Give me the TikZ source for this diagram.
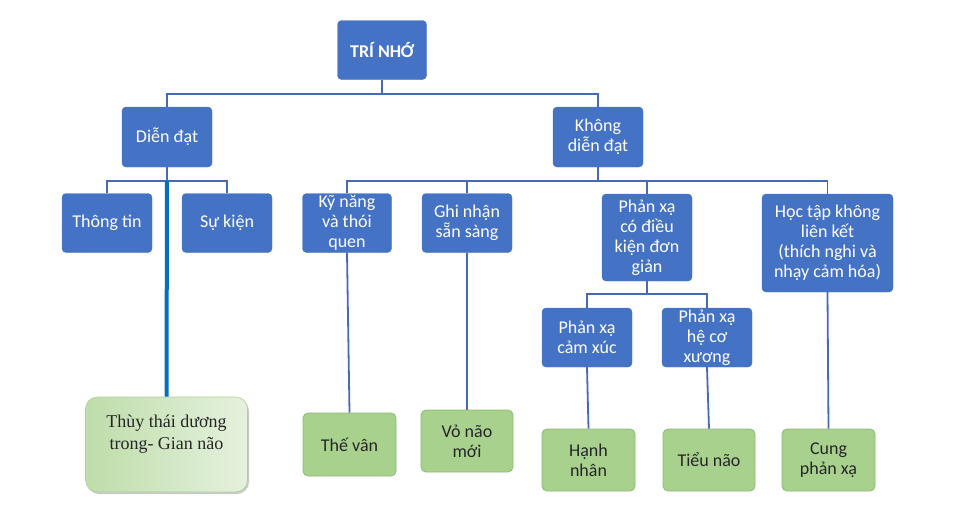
\documentclass[tikz,border=0pt]{standalone}
\usepackage{fontspec}
\setmainfont{Carlito}
\newfontfamily\serifv{Liberation Serif}
\usetikzlibrary{shadows}
\definecolor{boxblue}{RGB}{68,114,196}
\definecolor{linkblue}{RGB}{70,106,180}
\definecolor{thickblue}{RGB}{0,112,192}
\definecolor{leafgreen}{RGB}{169,209,142}
\definecolor{leafedge}{RGB}{140,186,116}
\begin{document}
\begin{tikzpicture}[x=1pt,y=-1pt,
  bluebox/.style={fill=boxblue, draw=boxblue, rounded corners=4pt, text=white, align=center,
    font=\fontsize{18}{20}\selectfont, inner sep=0pt},
  leafbox/.style={fill=leafgreen, draw=leafedge, line width=0.8pt, rounded corners=5pt, text=black!85, align=center,
    font=\fontsize{18}{20}\selectfont, inner sep=0pt, minimum width=92pt, minimum height=62pt},
  link/.style={draw=linkblue, line width=1.8pt},
  thicklink/.style={draw=thickblue, line width=4pt},
  thuybox/.style={rounded corners=12pt, draw=leafedge!70, line width=0.6pt, left color=leafgreen!75, right color=leafgreen!30,
    drop shadow={shadow xshift=1.5pt, shadow yshift=-2pt, fill=black!35, opacity=0.6},
    minimum width=162pt, minimum height=95pt, inner sep=0pt}
]
\useasboundingbox (0,0) rectangle (975,517);

% top levels
\node[bluebox, minimum width=89pt, minimum height=59pt, font=\fontsize{18}{20}\selectfont\bfseries] (tri) at (382,50) {TRÍ NHỚ};
\node[bluebox, minimum width=90pt, minimum height=60pt] (dien) at (167,137) {Diễn đạt};
\node[bluebox, minimum width=90pt, minimum height=60pt] (khong) at (598,137) {Không\\diễn đạt};

% level 3
\node[bluebox, minimum width=90pt, minimum height=59pt] (thong) at (107,223) {Thông tin};
\node[bluebox, minimum width=90pt, minimum height=59pt] (sukien) at (227,223) {Sự kiện};
\node[bluebox, minimum width=89pt, minimum height=59pt] (kynang) at (347,223) {Kỹ năng\\và thói\\quen};
\node[bluebox, minimum width=90pt, minimum height=59pt] (ghinhan) at (467,223) {Ghi nhận\\sẵn sàng};
\node[bluebox, minimum width=90pt, minimum height=87pt] (pxdk) at (647,237.5) {Phản xạ\\có điều\\kiện đơn\\giản};
\node[bluebox, minimum width=131pt, minimum height=98pt] (hoctap) at (827.5,243) {Học tập không\\liên kết\\(thích nghi và\\nhạy cảm hóa)};

% level 4
\node[bluebox, minimum width=90pt, minimum height=59pt] (pxcx) at (587,337.5) {Phản xạ\\cảm xúc};
\node[bluebox, minimum width=90pt, minimum height=59pt] (pxhc) at (707,337.5) {Phản xạ\\hệ cơ\\xương};

% leaves
\node[thuybox] (thuy) at (166.5,444.5) {};
\node[font=\serifv\fontsize{18}{22}\selectfont, text=black!85, align=center] (thuytxt) at (166.5,434) {Thùy thái dương\\trong- Gian não};
\node[leafbox, minimum width=93pt, minimum height=63pt] (thevan) at (349.5,444.5) {Thế vân};
\node[leafbox, minimum width=92pt, minimum height=62pt] (vonao) at (467,441) {Vỏ não\\mới};
\node[leafbox, minimum width=93pt, minimum height=62pt] (hanh) at (588.5,460) {Hạnh\\nhân};
\node[leafbox, minimum width=92pt, minimum height=62pt] (tieu) at (709,460) {Tiểu não};
\node[leafbox, minimum width=93pt, minimum height=62pt] (cung) at (828.5,460) {Cung\\phản xạ};

% bus coordinates
\coordinate (b1) at (382,94);
\coordinate (b2) at (167,181);
\coordinate (b3) at (598,181);
\coordinate (b4) at (647,294);

% connectors
\draw[link] (tri.south) -- (b1);
\draw[link] (dien.north) |- (b1) -| (khong.north);
\draw[link] (dien.south) -- (b2);
\draw[link] (thong.north) |- (b2) -| (sukien.north);
\draw[link] (khong.south) -- (b3);
\draw[link] (kynang.north) |- (b3) -| (hoctap.north);
\draw[link] (ghinhan.north) -- (ghinhan.north |- b3);
\draw[link] (pxdk.north) -- (pxdk.north |- b3);
\draw[link] (pxdk.south) -- (b4);
\draw[link] (pxcx.north) |- (b4) -| (pxhc.north);
\draw[thicklink] (b2) -- (thuy.north);
\draw[link] (kynang.south) -- (thevan.north);
\draw[link] (ghinhan.south) -- (vonao.north);
\draw[link] (pxcx.south) -- (hanh.north);
\draw[link] (pxhc.south) -- (tieu.north);
\draw[link] (hoctap.south) -- (cung.north);
\end{tikzpicture}
\end{document}
